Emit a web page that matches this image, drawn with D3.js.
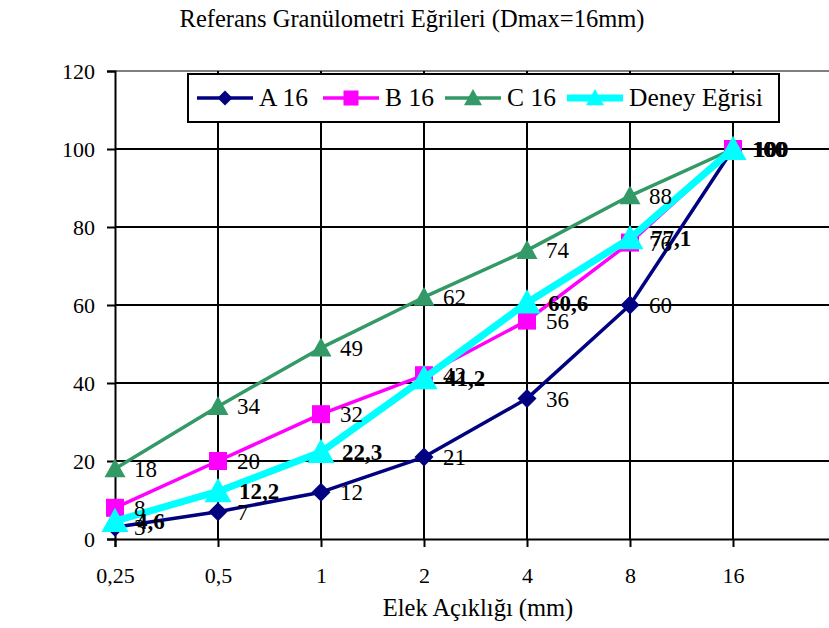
<!DOCTYPE html>
<html>
<head>
<meta charset="utf-8">
<script src="https://cdn.jsdelivr.net/npm/d3@7"></script>
<style>
  html, body { margin: 0; padding: 0; background: #fff; }
  svg { display: block; }
  svg text { font-family: "Times New Roman", "Liberation Serif", Times, serif !important; fill: #000; }
</style>
</head>
<body>
<svg id="chart" width="829" height="628"></svg>
<script>
// Sieve sizes (mm) and passing percentages
const sieves = ["0,25", "0,5", "1", "2", "4", "8", "16"];
const seriesNames = ["A 16", "B 16", "C 16", "Deney Eğrisi"];
const valuesA = [3, 7, 12, 21, 36, 60, 100];
const valuesB = [8, 20, 32, 42, 56, 76, 100];
const valuesC = [18, 34, 49, 62, 74, 88, 100];
const valuesDeney = [4.6, 12.2, 22.3, 41.2, 60.6, 77.1, 100];
const yTicks = [0, 20, 40, 60, 80, 100, 120];

const series = [
  { name: seriesNames[0], values: valuesA, color: "#000080", width: 3.5, shape: "diamond", size: 19, bold: false },
  { name: seriesNames[1], values: valuesB, color: "#ff00ff", width: 3.5, shape: "square", size: 18, bold: false },
  { name: seriesNames[2], values: valuesC, color: "#339966", width: 3.5, shape: "triangle", size: 21, bold: false },
  { name: seriesNames[3], values: valuesDeney, color: "#00ffff", width: 7, shape: "triangle", size: 27, bold: true }
];

const svg = d3.select("#chart");
const plotLeft = 115, plotRight = 836, plotTop = 71, plotBottom = 539;

// category positions sit on the ticks; one empty slot remains on the right
const x = d3.scaleLinear().domain([0, sieves.length]).range([plotLeft, plotRight]);
const y = d3.scaleLinear().domain([0, 120]).range([plotBottom, plotTop]);

// title
svg.append("text")
  .attr("x", 412).attr("y", 27)
  .attr("text-anchor", "middle")
  .style("font-size", "24.5px")
  .text("Referans Granülometri Eğrileri (Dmax=16mm)");

// horizontal gridlines
svg.append("g").selectAll("line")
  .data(yTicks.filter(d => d > 0))
  .join("line")
  .attr("x1", plotLeft).attr("x2", 829)
  .attr("y1", d => y(d)).attr("y2", d => y(d))
  .attr("stroke", d => d === 120 ? "#7f7f7f" : "#000")
  .attr("stroke-width", 2);

// vertical gridlines at each category
svg.append("g").selectAll("line")
  .data(sieves.map((s, i) => i).filter(i => i > 0))
  .join("line")
  .attr("x1", d => x(d)).attr("x2", d => x(d))
  .attr("y1", plotTop).attr("y2", plotBottom)
  .attr("stroke", "#000")
  .attr("stroke-width", 2);

// y axis
const yAxis = d3.axisLeft(y).tickValues(yTicks).tickSize(8).tickPadding(12).tickFormat(d3.format("d"));
const gy = svg.append("g").attr("transform", `translate(${plotLeft},0)`).call(yAxis);
gy.select(".domain").attr("stroke", "#000").attr("stroke-width", 2);
gy.selectAll(".tick line").attr("stroke", "#000").attr("stroke-width", 2);
gy.selectAll(".tick text")
  .style("font-size", "22px")
  .attr("fill", "#000");

// x axis
const xAxis = d3.axisBottom(x)
  .tickValues(sieves.map((s, i) => i))
  .tickFormat(i => sieves[i])
  .tickSize(8).tickPadding(20);
const gx = svg.append("g").attr("transform", `translate(0,${plotBottom})`).call(xAxis);
gx.select(".domain").attr("stroke", "#000").attr("stroke-width", 2);
gx.selectAll(".tick line").attr("stroke", "#000").attr("stroke-width", 2);
gx.selectAll(".tick text")
  .style("font-size", "22px")
  .attr("fill", "#000");

// axis titles
svg.append("text")
  .attr("x", 478).attr("y", 616)
  .attr("text-anchor", "middle")
  .style("font-size", "24.5px")
  .text("Elek Açıklığı (mm)");

svg.append("defs").append("clipPath").attr("id", "ytitle-clip")
  .append("rect").attr("x", 0).attr("y", 147).attr("width", 60).attr("height", 400);

svg.append("text")
  .attr("clip-path", "url(#ytitle-clip)")
  .attr("transform", "translate(31,420) rotate(-90)")
  .attr("text-anchor", "start")
  .style("font-size", "24.5px")
  .text("Elekten Geçen Malzeme (%)");

// marker path generator
function markerPath(shape, size) {
  const h = size / 2;
  if (shape === "diamond") return `M0,${-h}L${h},0L0,${h}L${-h},0Z`;
  if (shape === "square") return `M${-h},${-h}H${h}V${h}H${-h}Z`;
  // triangle
  const th = size * 0.9;
  return `M0,${-th * 0.55}L${h},${th * 0.45}L${-h},${th * 0.45}Z`;
}

const line = d3.line().x((d, i) => x(i)).y(d => y(d));

series.forEach(s => {
  const g = svg.append("g");
  g.append("path")
    .attr("d", line(s.values))
    .attr("fill", "none")
    .attr("stroke", s.color)
    .attr("stroke-width", s.width)
    .attr("stroke-linejoin", "round");
  g.selectAll("path.m")
    .data(s.values)
    .join("path")
    .attr("class", "m")
    .attr("transform", (d, i) => `translate(${x(i)},${y(d)})`)
    .attr("d", markerPath(s.shape, s.size))
    .attr("fill", s.color);
});

// data labels
const fmt = v => String(v).replace(".", ",");
series.forEach(s => {
  svg.append("g").selectAll("text")
    .data(s.values)
    .join("text")
    .attr("x", (d, i) => x(i) + (s.bold ? 21 : 19))
    .attr("y", d => y(d) + 8)
    .style("font-size", "23px")
    .style("font-weight", s.bold ? "bold" : "normal")
    .text(d => fmt(d));
});

// legend
const lg = svg.append("g");
lg.append("rect")
  .attr("x", 188).attr("y", 74).attr("width", 591).attr("height", 48)
  .attr("fill", "#fff").attr("stroke", "#000").attr("stroke-width", 2);
const legendX = [197, 323, 445, 567];
series.forEach((s, k) => {
  const lx = legendX[k], ly = 98;
  lg.append("line")
    .attr("x1", lx).attr("x2", lx + 56).attr("y1", ly).attr("y2", ly)
    .attr("stroke", s.color).attr("stroke-width", s.width);
  lg.append("path")
    .attr("transform", `translate(${lx + 28},${ly})`)
    .attr("d", markerPath(s.shape, s.shape === "triangle" ? 18 : 15))
    .attr("fill", s.color);
  lg.append("text")
    .attr("x", lx + 62).attr("y", ly + 8)
    .style("font-size", "25.5px")
    .text(s.name);
});
</script>
</body>
</html>
